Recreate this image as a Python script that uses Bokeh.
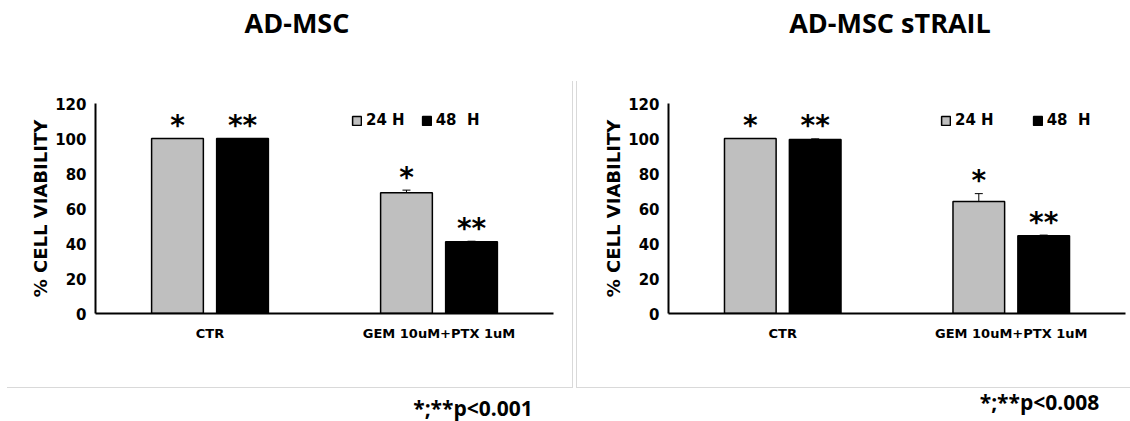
from bokeh.plotting import figure
from bokeh.models import (ColumnDataSource, FactorRange, Range1d, FixedTicker, Whisker,
                          TeeHead, Legend, LegendItem, InlineStyleSheet)
from bokeh.transform import dodge
from bokeh.layouts import row, column
from bokeh.core.properties import value
from bokeh.embed import file_html
from bokeh.resources import INLINE

# ---------------- data ----------------
categories = ["CTR", "GEM 10uM+PTX 1uM"]
series_labels = ["24 H", "48  H"]
y_ticks = [0, 20, 40, 60, 80, 100, 120]

# AD-MSC
msc_24 = [100, 69]
msc_24_err = [0, 1.5]
msc_48 = [100, 41]
msc_48_err = [0, 0.3]

# AD-MSC sTRAIL
trail_24 = [100, 64]
trail_24_err = [0, 4.5]
trail_48 = [99.5, 44.5]
trail_48_err = [0.3, 0.3]

stars_24 = ["*", "*"]
stars_48 = ["**", "**"]

titles = ["AD-MSC", "AD-MSC sTRAIL"]
footnotes = ["*;**p<0.001", "*;**p<0.008"]

GRAY = "#bfbfbf"
FONT = "DejaVu Sans"
TFONT = "Open Sans"

W_LEFT, W_RIGHT = 573, 557
H_HEAD, H_PANEL, H_FOOT = 81, 307, 33


def text_strip(width, height, text, cx, cy, size):
    """A bare figure (no axes) that only holds one line of text."""
    p = figure(width=width, height=height, x_range=Range1d(0, width), y_range=Range1d(height, 0),
               x_axis_type=None, y_axis_type=None, output_backend="svg", toolbar_location=None,
               min_border=0, min_border_left=0, min_border_right=0,
               min_border_top=0, min_border_bottom=0)
    p.outline_line_color = None
    p.grid.grid_line_color = None
    p.background_fill_color = "white"
    p.border_fill_color = "white"
    p.text(x=[cx], y=[cy], text=[text], text_align="center", text_baseline="middle",
           text_font=value(TFONT), text_font_style="bold", text_font_size=size,
           text_color="black")
    return p


def panel(width, border_left, frame_w, v24, e24, v48, e48, leg_x, leg_spacing, css):
    border_top = 22
    frame_h = 210
    height = H_PANEL
    p = figure(width=width, height=height, x_range=FactorRange(*categories),
               y_range=Range1d(0, 120), output_backend="svg", toolbar_location=None,
               min_border_left=border_left, min_border_right=width - border_left - frame_w,
               min_border_top=border_top, min_border_bottom=height - border_top - frame_h)
    p.x_range.range_padding = 0
    p.x_range.factor_padding = 0
    p.outline_line_color = None
    p.xgrid.grid_line_color = None
    p.ygrid.grid_line_color = None
    p.background_fill_color = "white"
    p.border_fill_color = "white"
    p.stylesheets = [InlineStyleSheet(css=css)]

    src = ColumnDataSource(dict(
        cat=categories,
        v24=v24, v48=v48,
        u24=[a + b for a, b in zip(v24, e24)], l24=[a - b for a, b in zip(v24, e24)],
        u48=[a + b for a, b in zip(v48, e48)], l48=[a - b for a, b in zip(v48, e48)],
        s24=stars_24, s48=stars_48,
    ))
    off = 0.142
    bw = 0.226
    r24 = p.vbar(x=dodge("cat", -off, range=p.x_range), top="v24", width=bw, source=src,
                 fill_color=GRAY, line_color="black", line_width=1.5)
    r48 = p.vbar(x=dodge("cat", off, range=p.x_range), top="v48", width=bw, source=src,
                 fill_color="black", line_color="black", line_width=1.5)

    for o, up, lo in ((-off, "u24", "l24"), (off, "u48", "l48")):
        w = Whisker(base=dodge("cat", o, range=p.x_range), upper=up, lower=lo, source=src,
                    line_color="black", line_width=1,
                    upper_head=TeeHead(size=8, line_color="black", line_width=1),
                    lower_head=TeeHead(size=8, line_color="black", line_width=1))
        p.add_layout(w)

    for o, up, tx in ((-off, "u24", "s24"), (off, "u48", "s48")):
        p.text(x=dodge("cat", o, range=p.x_range), y=up, text=tx, source=src,
               text_align="center", text_baseline="alphabetic", y_offset=-13,
               text_font=value(FONT), text_font_style="bold", text_font_size="28px",
               text_color="black")

    # axes
    p.yaxis.ticker = FixedTicker(ticks=y_ticks)
    for ax in (p.xaxis[0], p.yaxis[0]):
        ax.axis_line_color = "black"
        ax.axis_line_width = 2
        ax.major_tick_line_color = None
        ax.minor_tick_line_color = None
        ax.major_tick_in = 0
        ax.major_tick_out = 0
        ax.minor_tick_out = 0
        ax.major_label_text_font = FONT
        ax.major_label_text_font_style = "bold"
        ax.major_label_text_color = "black"
    p.yaxis.major_label_text_font_size = "15px"
    p.yaxis.major_label_standoff = 9
    p.yaxis.axis_label = "% CELL VIABILITY"
    p.yaxis.axis_label_text_font = FONT
    p.yaxis.axis_label_text_font_style = "bold"
    p.yaxis.axis_label_text_font_size = "18px"
    p.yaxis.axis_label_text_color = "black"
    p.yaxis.axis_label_standoff = 1
    p.xaxis.major_label_text_font_size = "13px"
    p.xaxis.major_label_standoff = 12

    legend = Legend(items=[LegendItem(label=series_labels[0], renderers=[r24]),
                           LegendItem(label=series_labels[1], renderers=[r48])],
                    orientation="horizontal", location=(leg_x, 184),
                    glyph_width=11, glyph_height=11, label_standoff=4,
                    spacing=leg_spacing, padding=0, margin=0,
                    border_line_color=None, background_fill_alpha=0,
                    label_text_font=FONT, label_text_font_style="bold",
                    label_text_font_size="15px", label_text_color="black")
    p.add_layout(legend)
    return p


css_left = (":host::after { content: ''; position: absolute; left: 7px; top: 0px; "
            "width: 566px; height: 307px; box-sizing: border-box; "
            "border-right: 1px solid #d9d9d9; border-bottom: 1px solid #d9d9d9; "
            "pointer-events: none; }")
css_right = (":host::after { content: ''; position: absolute; left: 3px; top: 0px; "
             "width: 554px; height: 307px; box-sizing: border-box; "
             "border-left: 1px solid #d9d9d9; border-bottom: 1px solid #d9d9d9; "
             "pointer-events: none; }")

head_l = text_strip(W_LEFT, H_HEAD, titles[0], 296.5, 21.5, "27px")
head_r = text_strip(W_RIGHT, H_HEAD, titles[1], 316.5, 21.5, "27px")

left = panel(W_LEFT, 95, 458, msc_24, msc_24_err, msc_48, msc_48_err, 256, 16, css_left)
right = panel(W_RIGHT, 95, 457, trail_24, trail_24_err, trail_48, trail_48_err, 272, 38, css_right)

foot_l = text_strip(W_LEFT, H_FOOT, footnotes[0], 472.5, 19, "21px")
foot_r = text_strip(W_RIGHT, H_FOOT, footnotes[1], 466, 13, "21px")

layout = column(row(head_l, head_r), row(left, right), row(foot_l, foot_r))
open("out.html", "w").write(file_html(layout, INLINE))
